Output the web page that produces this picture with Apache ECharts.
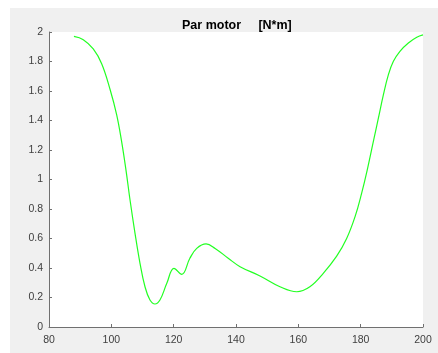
<!DOCTYPE html>
<html>
<head>
<meta charset="utf-8">
<script src="https://cdn.jsdelivr.net/npm/echarts@6/dist/echarts.min.js"></script>
<style>
html,body{margin:0;padding:0;background:#fff;}
#chart{width:438px;height:353px;}
</style>
</head>
<body>
<div id="chart"></div>
<script>
const titleText = 'Par motor     [N*m]';
const xTicks = { min: 80, max: 200, interval: 20 };
const yTicks = { min: 0, max: 2, interval: 0.2 };
const speed = [88.0, 91.0, 94.2, 96.9, 99.6, 101.7, 103.2, 104.7, 106.0, 107.6, 109.2, 110.8, 112.4, 114.0, 115.6, 117.8, 120.1, 122.6, 125.2, 127.4, 130.4, 133.3, 137.5, 141.3, 147.7, 154.1, 159.5, 163.7, 168.0, 172.3, 175.5, 178.2, 180.3, 182.1, 184.3, 185.7, 187.3, 188.9, 190.5, 192.6, 195.3, 198.0, 200.0];
const torque = [1.97, 1.948, 1.885, 1.785, 1.61, 1.44, 1.27, 1.064, 0.861, 0.635, 0.432, 0.273, 0.183, 0.156, 0.183, 0.296, 0.398, 0.357, 0.466, 0.533, 0.563, 0.533, 0.466, 0.409, 0.346, 0.273, 0.239, 0.273, 0.364, 0.48, 0.6, 0.748, 0.906, 1.064, 1.281, 1.417, 1.575, 1.711, 1.801, 1.869, 1.925, 1.964, 1.98];

const chart = echarts.init(document.getElementById('chart'), null, { renderer: 'canvas' });
const axisCol = '#707070';
const labelCol = '#404040';
const fontFam = '"Liberation Sans", Arial, Helvetica, sans-serif';
chart.setOption({
  animation: false,
  backgroundColor: '#ffffff',
  graphic: [{
    type: 'rect', left: 10, top: 8, z: -10,
    shape: { width: 428, height: 345 },
    style: { fill: '#f0f0f0' }
  }],
  title: {
    text: titleText, left: 177, top: 14,
    textStyle: { fontSize: 12.5, fontWeight: 'bold', color: '#000', fontFamily: fontFam }
  },
  grid: { left: 49, top: 32, width: 374, height: 295, show: true, backgroundColor: '#ffffff', borderWidth: 0 },
  xAxis: {
    type: 'value', min: xTicks.min, max: xTicks.max, interval: xTicks.interval,
    axisLine: { show: true, lineStyle: { color: axisCol, width: 1 } },
    axisTick: { show: true, inside: true, length: 3, lineStyle: { color: axisCol } },
    axisLabel: { color: labelCol, fontSize: 10.5, margin: 8, fontFamily: fontFam },
    splitLine: { show: false }
  },
  yAxis: {
    type: 'value', min: yTicks.min, max: yTicks.max, interval: yTicks.interval,
    axisLine: { show: true, lineStyle: { color: axisCol, width: 1 } },
    axisTick: { show: true, inside: true, length: 3, lineStyle: { color: axisCol } },
    axisLabel: { color: labelCol, fontSize: 10.5, margin: 6, fontFamily: fontFam },
    splitLine: { show: false }
  },
  series: [{
    type: 'line',
    data: speed.map((x, i) => [x, torque[i]]),
    smooth: 0.4,
    showSymbol: false,
    lineStyle: { color: '#22ff22', width: 1.2 }
  }]
});
</script>
</body>
</html>
